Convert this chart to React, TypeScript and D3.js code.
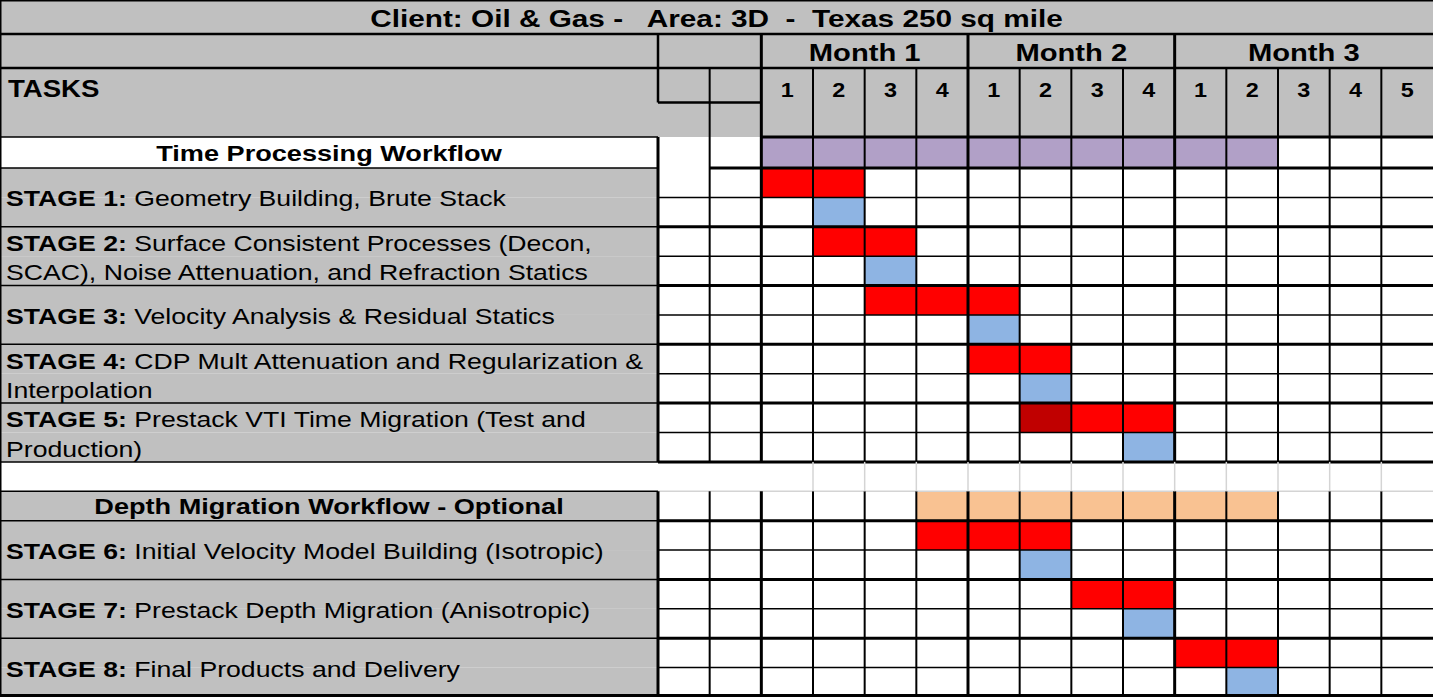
import React from "react";
import * as d3 from "d3";

const titleText = "Client: Oil & Gas -   Area: 3D  -  Texas 250 sq mile";
const monthLabels = ["Month 1", "Month 2", "Month 3"];
const weeksPerMonth = [4, 4, 5];
const weekLabels = ["1", "2", "3", "4", "1", "2", "3", "4", "1", "2", "3", "4", "5"];

const workflowNames = ["Time Processing Workflow", "Depth Migration Workflow - Optional"];
const workflowStart = [0, 3];
const workflowEnd = [9, 9];

const stageTags = ["STAGE 1:", "STAGE 2:", "STAGE 3:", "STAGE 4:", "STAGE 5:", "STAGE 6:", "STAGE 7:", "STAGE 8:"];
const stageLines = [
  ["Geometry Building, Brute Stack"],
  ["Surface Consistent Processes (Decon,", "SCAC), Noise Attenuation, and Refraction Statics"],
  ["Velocity Analysis & Residual Statics"],
  ["CDP Mult Attenuation and Regularization &", "Interpolation"],
  ["Prestack VTI Time Migration (Test and", "Production)"],
  ["Initial Velocity Model Building (Isotropic)"],
  ["Prestack Depth Migration (Anisotropic)"],
  ["Final Products and Delivery"],
];
const stageWorkflow = [0, 0, 0, 0, 0, 1, 1, 1];
const stageStart = [0, 1, 2, 4, 5, 3, 6, 8];
const stageEnd = [1, 2, 4, 5, 7, 5, 7, 9];
const stageReview = [1, 2, 4, 5, 7, 5, 7, 9];
const stageHighlight = [-1, -1, -1, -1, 5, -1, -1, -1];

const W = 1433;
const H = 697;
const LABEL_W = 658;
const SX = 1.2; // the sheet's text is rendered a bit wide
const FONT = "'Liberation Sans', Arial, sans-serif";
const GRAY = "#C0C0C0";
const PURPLE = "#B1A0C7";
const ORANGE = "#F9C292";
const RED = "#FF0000";
const DARK_RED = "#C00000";
const BLUE = "#8EB4E3";
const LIGHT = "#D4D4D4";

type Row =
  | { kind: "wf"; wf: number }
  | { kind: "work"; s: number }
  | { kind: "review"; s: number }
  | { kind: "blank" };

export default function App() {
  // body rows in order
  const rows: Row[] = [];
  [0, 1].forEach((wf) => {
    if (wf === 1) rows.push({ kind: "blank" });
    rows.push({ kind: "wf", wf });
    stageTags.forEach((_, s) => {
      if (stageWorkflow[s] !== wf) return;
      rows.push({ kind: "work", s });
      rows.push({ kind: "review", s });
    });
  });

  const x = d3.scaleBand<number>().domain(d3.range(weekLabels.length + 2)).range([LABEL_W, W]);
  const bw = x.bandwidth();
  const wx = (w: number) => x(w + 2) as number;
  const y = d3.scaleLinear().domain([1, rows.length]).range([168, H]);
  const rowTop = (r: number) => (r === 0 ? 137 : y(r));
  const rowBot = (r: number) => y(r + 1);

  const monthStart = d3.cumsum([0, ...weeksPerMonth]);
  const blankIdx = rows.findIndex((r) => r.kind === "blank");
  const yBlankTop = rowTop(blankIdx);
  const yBlankBot = rowBot(blankIdx);

  const lines: { x1: number; y1: number; x2: number; y2: number; w: number; c?: string }[] = [];
  const h = (yy: number, x1: number, x2: number, w: number, c?: string) => lines.push({ x1, x2, y1: yy, y2: yy, w, c });
  const v = (xx: number, y1: number, y2: number, w: number, c?: string) => lines.push({ x1: xx, x2: xx, y1, y2, w, c });

  // header lines
  h(0.75, 0, W, 1.5);
  h(34, 0, W, 2.5);
  h(68, 0, W, 2.5);
  h(102.5, LABEL_W, wx(0), 2.5);
  h(137, 0, LABEL_W, 1.5);
  h(137, wx(0), W, 3);

  // body horizontal lines
  rows.forEach((r, i) => {
    if (i === 0) return;
    const yy = rowTop(i);
    const prev = rows[i - 1];
    if (r.kind === "review") {
      h(yy, LABEL_W, W, 1.5);
    } else if (prev.kind === "blank") {
      h(yy, 0, LABEL_W, 1.5);
      h(yy, LABEL_W, W, 1.5, LIGHT);
    } else {
      h(yy, 0, LABEL_W, 1.5);
      h(yy, i === 1 ? x(1)! : LABEL_W, W, 3);
    }
  });
  h(H - 1.5, 0, W, 3);

  // vertical lines
  v(0.75, 0, H, 1.5);
  v(LABEL_W, 34, 102.5, 2.5);
  v(LABEL_W, 137, yBlankTop, 3);
  v(LABEL_W, yBlankBot, H, 3);
  v(x(1)!, 68, yBlankTop, 2);
  v(x(1)!, yBlankBot, H, 2);
  weekLabels.forEach((_, w) => {
    const xx = wx(w);
    const isMonth = monthStart.includes(w);
    v(xx, isMonth ? 34 : 68, yBlankTop, isMonth ? 3 : 2);
    v(xx, yBlankBot, H, isMonth ? 3 : 2);
    if (w > 0) v(xx, yBlankTop, yBlankBot, 1.5, LIGHT);
  });

  const txt = (
    key: string,
    tx: number,
    ty: number,
    size: number,
    content: React.ReactNode,
    anchor: "start" | "middle" = "start",
    weight: string = "bold"
  ) => (
    <text
      key={key}
      transform={`translate(${tx},${ty}) scale(${SX},1)`}
      textAnchor={anchor}
      fontSize={size}
      fontWeight={weight}
      fontFamily={FONT}
      fill="#000"
      style={{ whiteSpace: "pre" }}
    >
      {content}
    </text>
  );

  const STAGE_FS = 22.2;

  return (
    <svg width={W} height={H} style={{ display: "block", position: "absolute", left: 0, top: 0 }}>
      <rect x={0} y={0} width={W} height={H} fill="#fff" />
      <rect x={0} y={0} width={W} height={137} fill={GRAY} />

      {/* label column backgrounds */}
      {rows.map((r, i) => {
        if (r.kind === "blank") return null;
        const fill = r.kind === "wf" && r.wf === 0 ? "#fff" : GRAY;
        return <rect key={"lb" + i} x={0} y={rowTop(i)} width={LABEL_W} height={rowBot(i) - rowTop(i)} fill={fill} />;
      })}

      {/* workflow bars */}
      {rows.map((r, i) =>
        r.kind === "wf"
          ? d3.range(workflowStart[r.wf], workflowEnd[r.wf] + 1).map((w) => (
              <rect
                key={`wf${i}-${w}`}
                x={wx(w)}
                y={rowTop(i)}
                width={bw}
                height={rowBot(i) - rowTop(i)}
                fill={r.wf === 0 ? PURPLE : ORANGE}
              />
            ))
          : null
      )}

      {/* stage work / review cells */}
      {rows.map((r, i) => {
        if (r.kind === "work") {
          return d3.range(stageStart[r.s], stageEnd[r.s] + 1).map((w) => (
            <rect
              key={`wk${i}-${w}`}
              x={wx(w)}
              y={rowTop(i)}
              width={bw}
              height={rowBot(i) - rowTop(i)}
              fill={w === stageHighlight[r.s] ? DARK_RED : RED}
            />
          ));
        }
        if (r.kind === "review") {
          const w = stageReview[r.s];
          return <rect key={"rv" + i} x={wx(w)} y={rowTop(i)} width={bw} height={rowBot(i) - rowTop(i)} fill={BLUE} />;
        }
        return null;
      })}

      {/* grid */}
      {lines.map((l, i) => (
        <line key={"ln" + i} x1={l.x1} x2={l.x2} y1={l.y1} y2={l.y2} stroke={l.c || "#000"} strokeWidth={l.w} />
      ))}

      {/* header text */}
      {txt("title", W / 2, 26.5, 24.8, titleText, "middle")}
      {monthLabels.map((m, i) =>
        txt("m" + i, (wx(monthStart[i]) + wx(monthStart[i + 1] - 1) + bw) / 2, 61, 24.3, m, "middle")
      )}
      {weekLabels.map((wl, w) => txt("w" + w, wx(w) + bw / 2, 97, 19.5, wl, "middle"))}
      {txt("tasks", 8, 96.5, 23, "TASKS")}

      {/* row labels */}
      {rows.map((r, i) => {
        if (r.kind === "wf") {
          const cy = (rowTop(i) + rowBot(i)) / 2;
          return txt("wfn" + i, LABEL_W / 2, cy + 8, 22.6, workflowNames[r.wf], "middle");
        }
        if (r.kind === "work") {
          const ls = stageLines[r.s];
          const top = rowTop(i);
          const bot = rowBot(i + 1);
          if (ls.length === 1) {
            return txt(
              "st" + i,
              6,
              (top + bot) / 2 + 9,
              STAGE_FS,
              <>
                <tspan fontWeight="bold">{stageTags[r.s]}</tspan>
                <tspan fontWeight="normal">{" " + ls[0]}</tspan>
              </>
            );
          }
          return (
            <g key={"st" + i}>
              {txt(
                "a",
                6,
                (top + rowBot(i)) / 2 + 9.5,
                STAGE_FS,
                <>
                  <tspan fontWeight="bold">{stageTags[r.s]}</tspan>
                  <tspan fontWeight="normal">{" " + ls[0]}</tspan>
                </>
              )}
              {txt("b", 6, (rowBot(i) + bot) / 2 + 9.5, STAGE_FS, ls[1], "start", "normal")}
            </g>
          );
        }
        return null;
      })}
    </svg>
  );
}
